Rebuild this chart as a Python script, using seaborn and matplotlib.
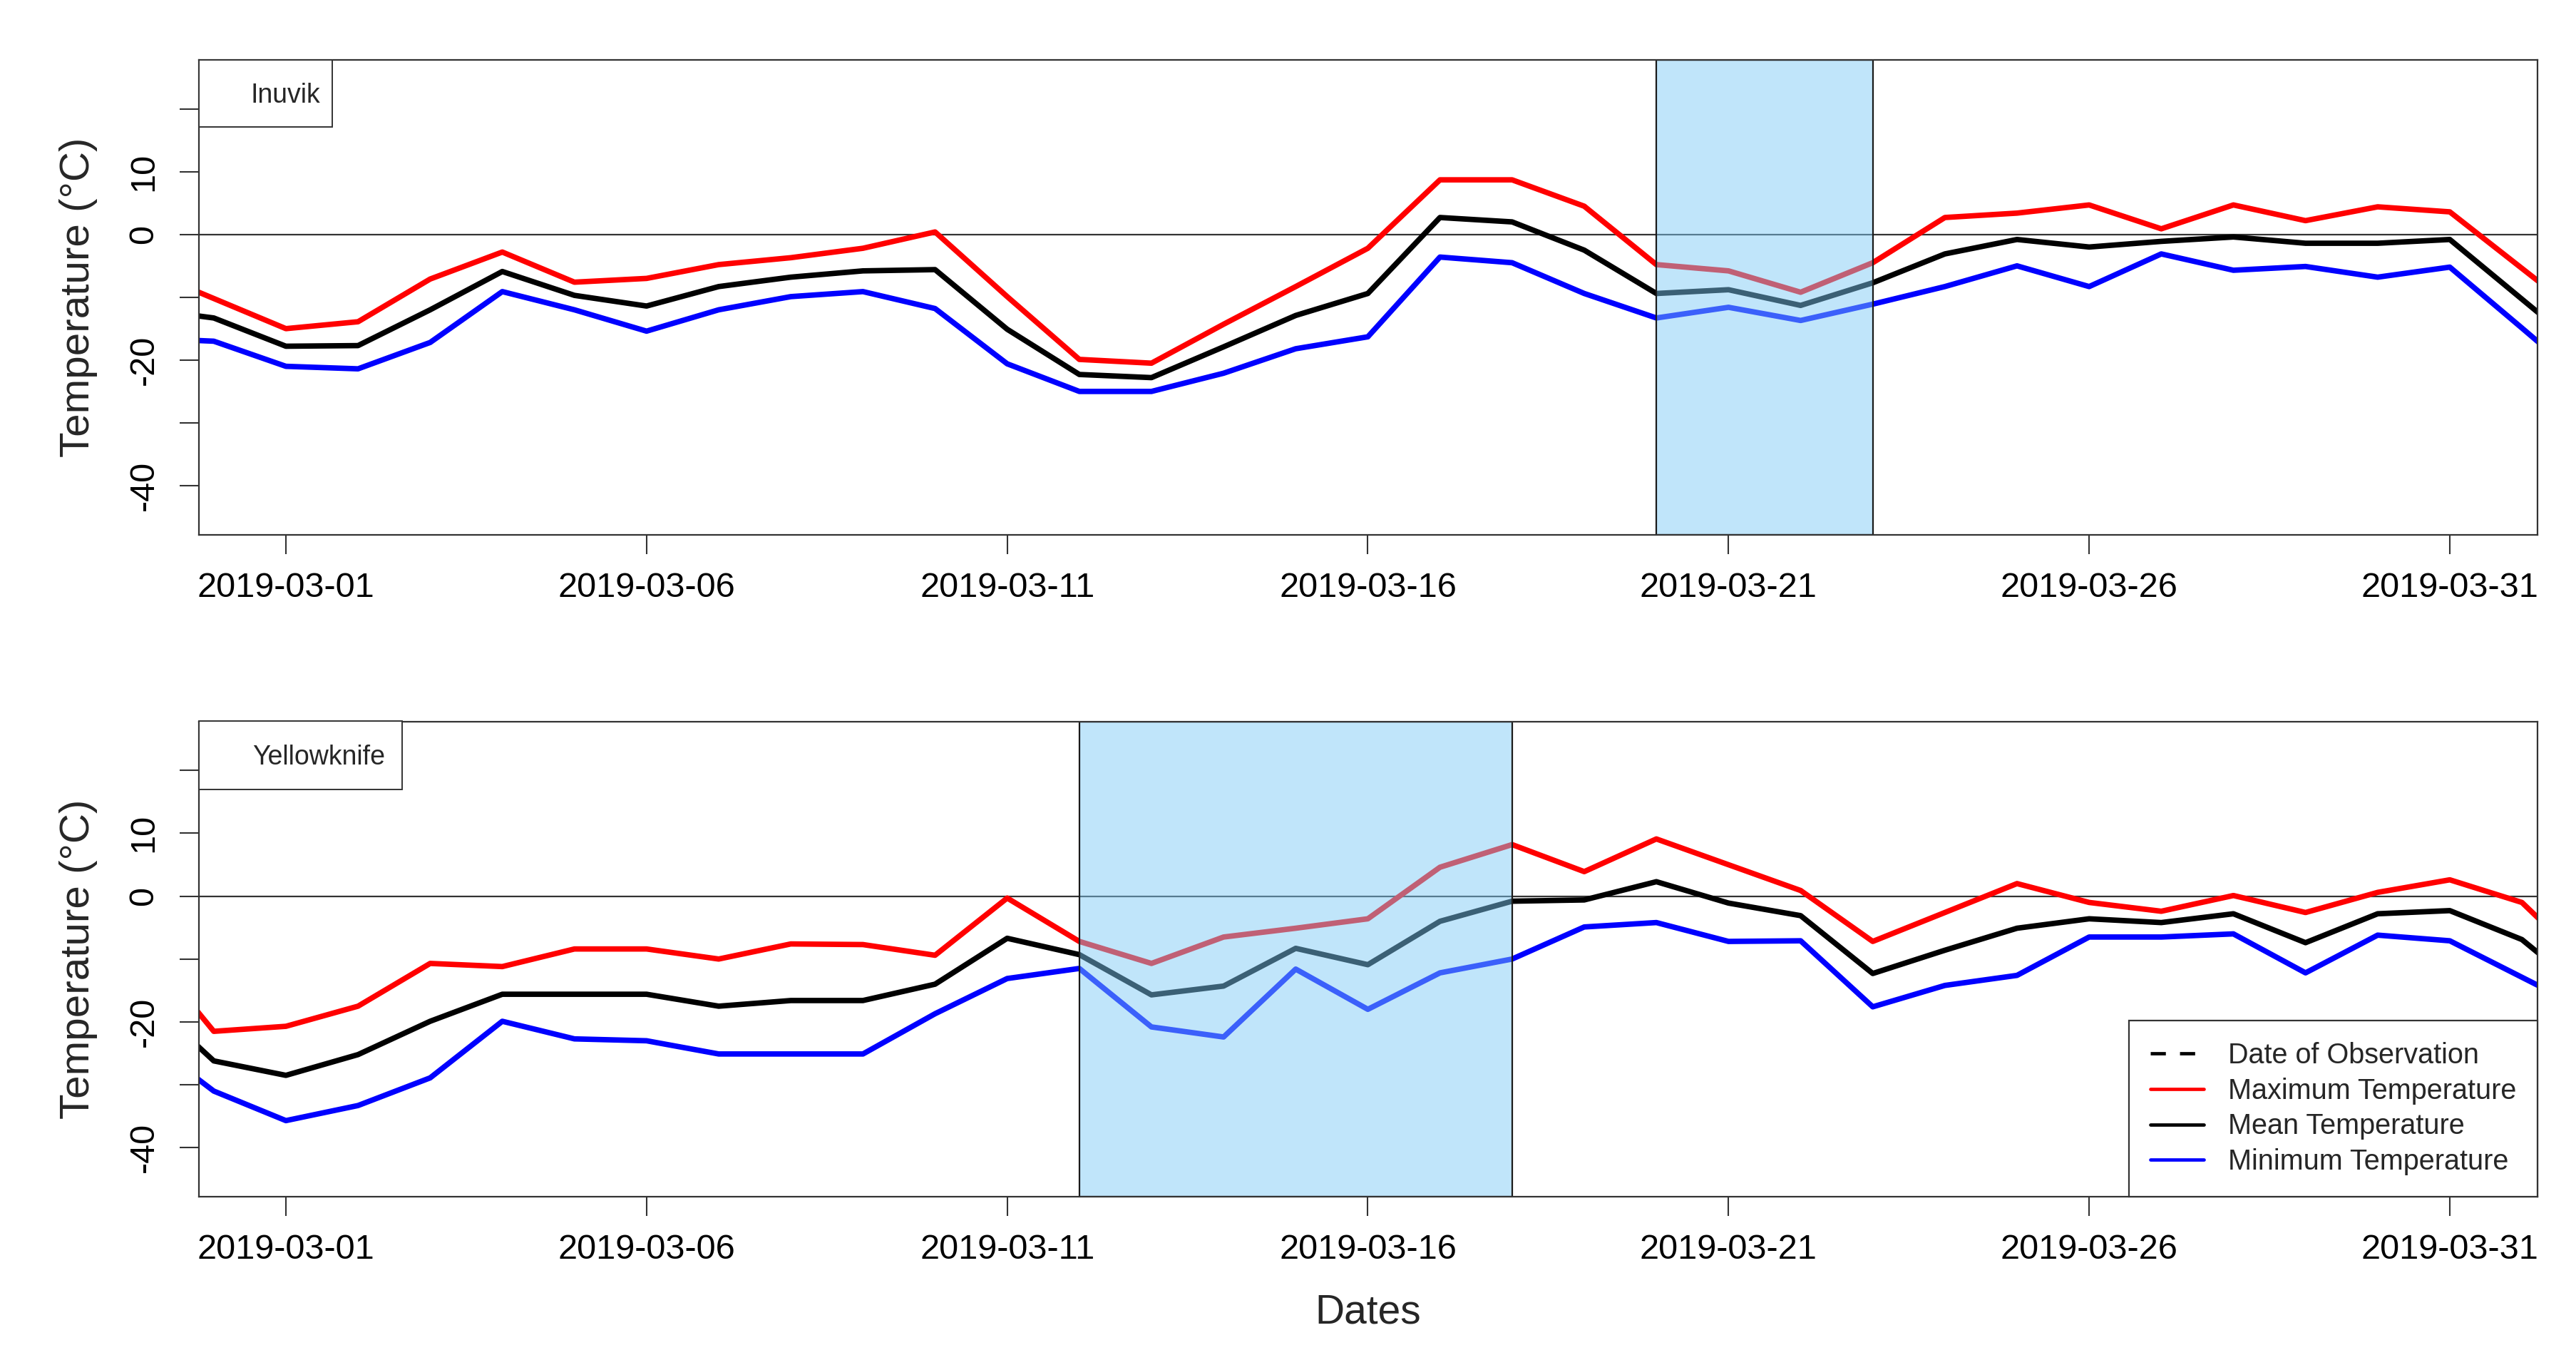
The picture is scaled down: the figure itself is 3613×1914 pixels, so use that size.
import matplotlib
matplotlib.use("Agg")
import matplotlib.pyplot as plt
import matplotlib.patches as mpatches
from matplotlib.lines import Line2D
import seaborn as sns
import pandas as pd

# ------------------------------------------------------------------
# Data (daily values)
# ------------------------------------------------------------------

dates = pd.date_range("2019-02-27", "2019-04-02", freq="D")

inuvik_max = [-5.4, -10.2, -15.0, -13.9, -7.1, -2.8, -7.6, -7.0, -4.8, -3.7,
              -2.2, 0.4, -9.9, -19.9, -20.5, -14.3, -8.3, -2.2, 8.7, 8.7,
              4.5, -4.8, -5.8, -9.2, -4.5, 2.7, 3.4, 4.7, 0.9, 4.7,
              2.2, 4.4, 3.6, -5.4, -14.4]
inuvik_mean = [-11.8, -13.3, -17.8, -17.7, -12.0, -5.9, -9.7, -11.4, -8.3, -6.8,
               -5.8, -5.6, -15.1, -22.3, -22.8, -17.9, -12.9, -9.4, 2.7, 2.0,
               -2.5, -9.4, -8.8, -11.3, -7.7, -3.1, -0.8, -2.0, -1.1, -0.4,
               -1.4, -1.4, -0.8, -10.3, -19.8]
inuvik_min = [-16.5, -17.0, -21.0, -21.4, -17.2, -9.1, -12.0, -15.4, -12.0, -9.9,
              -9.1, -11.8, -20.6, -25.0, -25.0, -22.1, -18.2, -16.3, -3.6, -4.5,
              -9.4, -13.3, -11.6, -13.7, -11.1, -8.3, -5.0, -8.3, -3.1, -5.7,
              -5.1, -6.8, -5.2, -14.9, -24.7]

yk_max = [-7.5, -21.5, -20.7, -17.5, -10.7, -11.2, -8.4, -8.4, -10.0, -7.6,
          -7.7, -9.4, -0.3, -7.2, -10.7, -6.5, -5.1, -3.6, 4.6, 8.2,
          3.9, 9.1, 5.0, 0.9, -7.2, -2.6, 2.0, -1.0, -2.4, 0.1,
          -2.6, 0.6, 2.6, -1.0, -12.0]
yk_mean = [-15.6, -26.2, -28.5, -25.2, -19.9, -15.6, -15.6, -15.6, -17.5, -16.6,
           -16.6, -14.0, -6.7, -9.3, -15.7, -14.3, -8.3, -10.9, -4.0, -0.8,
           -0.6, 2.3, -1.1, -3.1, -12.3, -8.6, -5.1, -3.6, -4.2, -2.8,
           -7.4, -2.8, -2.3, -6.9, -16.3]
yk_min = [-22.3, -31.0, -35.7, -33.3, -28.9, -19.9, -22.7, -23.0, -25.1, -25.1,
          -25.1, -18.7, -13.1, -11.5, -20.8, -22.4, -11.6, -18.0, -12.2, -10.0,
          -4.9, -4.2, -7.2, -7.1, -17.6, -14.2, -12.6, -6.5, -6.5, -6.0,
          -12.2, -6.2, -7.1, -12.9, -18.7]

stations = ["Inuvik", "Yellowknife"]
obs_windows = [("2019-03-20", "2019-03-23"), ("2019-03-12", "2019-03-18")]

series_names = ["Maximum Temperature", "Mean Temperature", "Minimum Temperature"]
series_colors = {"Maximum Temperature": "#FF0000",
                 "Mean Temperature": "#000000",
                 "Minimum Temperature": "#0000FF"}

xtick_dates = pd.date_range("2019-03-01", "2019-03-31", freq="5D")
ytick_values = [-40, -30, -20, -10, 0, 10, 20]
ytick_labels = ["-40", "", "-20", "", "0", "10", ""]


def long_frame(vmax, vmean, vmin):
    parts = []
    for name, vals in zip(series_names, [vmax, vmean, vmin]):
        parts.append(pd.DataFrame({"date": dates, "temp": vals, "series": name}))
    return pd.concat(parts, ignore_index=True)


frames = [long_frame(inuvik_max, inuvik_mean, inuvik_min),
          long_frame(yk_max, yk_mean, yk_min)]

# ------------------------------------------------------------------
# Plot Style
# ------------------------------------------------------------------

sns.set_theme(style="white")
plt.rcParams["font.family"] = ["Liberation Sans", "DejaVu Sans"]

W, H = 3613, 1914
fig = plt.figure(figsize=(W / 100, H / 100), dpi=100)
fig.patch.set_facecolor("white")

frame_col = "#333333"
ax_rects = [
    [279 / W, 1 - 749.6 / H, 3280 / W, 665.6 / H],
    [279 / W, 1 - 1678 / H, 3280 / W, 666.5 / H],
]
label_boxes = [(0.057, 0.859, 0.0369, 0.925), (0.0869, 0.857, 0.0514, 0.9235)]

xmin = pd.Timestamp("2019-03-01") - pd.Timedelta(days=1.206)
xmax = pd.Timestamp("2019-03-31") + pd.Timedelta(days=1.216)

axes = []
for i, rect in enumerate(ax_rects):
    ax = fig.add_axes(rect)
    axes.append(ax)

    ax.axhline(0, color=frame_col, linewidth=1.6, zorder=1.5)

    sns.lineplot(
        data=frames[i],
        x="date",
        y="temp",
        hue="series",
        palette=series_colors,
        linewidth=5.5,
        legend=False,
        ax=ax,
        zorder=2
    )

    start, end = obs_windows[i]
    ax.axvspan(pd.Timestamp(start), pd.Timestamp(end),
               facecolor=(125 / 255, 202 / 255, 246 / 255, 0.48),
               edgecolor=(0.1, 0.1, 0.1, 1.0), linewidth=1.6, zorder=3)

    ax.set_xlim(xmin, xmax)
    ax.set_ylim(-47.8, 27.8)

    ax.set_xticks(xtick_dates)
    ax.set_xticklabels([d.strftime("%Y-%m-%d") for d in xtick_dates])
    ax.set_yticks(ytick_values)
    ax.set_yticklabels(ytick_labels)

    ax.tick_params(axis="both", which="both", direction="out", length=19.4,
                   width=1.5, color=frame_col, labelsize=35, labelcolor="black",
                   left=True, bottom=True, top=False, right=False)
    ax.tick_params(axis="x", pad=18)
    ax.tick_params(axis="y", pad=36)
    for lab in ax.get_yticklabels():
        lab.set_rotation(90)
        lab.set_ha("center")
        lab.set_va("center")

    ax.set_xlabel("")
    ax.set_ylabel("")
    for sp in ax.spines.values():
        sp.set_visible(True)
        sp.set_color(frame_col)
        sp.set_linewidth(1.6)
        sp.set_zorder(5)

    # station label box (top-left)
    bw, by, tx, ty = label_boxes[i]
    ax.add_patch(mpatches.Rectangle((0, by), bw, 1 - by, transform=ax.transAxes,
                                    facecolor="white", edgecolor=frame_col,
                                    linewidth=1.4, zorder=6, clip_on=False))
    ax.text(tx, ty, stations[i], transform=ax.transAxes, fontsize=27,
            ha="center", va="center", zorder=7)

    # y label
    fig.text(110 / W, rect[1] + rect[3] / 2, "Temperature (°C)", rotation=90,
             ha="center", va="center", fontsize=42)

fig.text(1919 / W, 1 - 1841 / H, "Dates", ha="center", va="center", fontsize=41)

# legend (bottom panel)
handles = [
    Line2D([], [], color="black", linewidth=3.4, linestyle=(0, (4.5, 4.2))),
    Line2D([], [], color="#FF0000", linewidth=3.4),
    Line2D([], [], color="black", linewidth=3.4),
    Line2D([], [], color="#0000FF", linewidth=3.4),
]
labels = ["Date of Observation"] + series_names
leg = axes[1].legend(handles, labels, loc="lower right", borderaxespad=0,
                     fontsize=28.5, frameon=True, fancybox=False, framealpha=1,
                     edgecolor=frame_col, handlelength=1.9, handletextpad=0.85,
                     borderpad=0.75, labelspacing=0.3)
leg.get_frame().set_linewidth(1.6)
leg.set_zorder(8)

fig.savefig("out.png", dpi=100, facecolor="white")
